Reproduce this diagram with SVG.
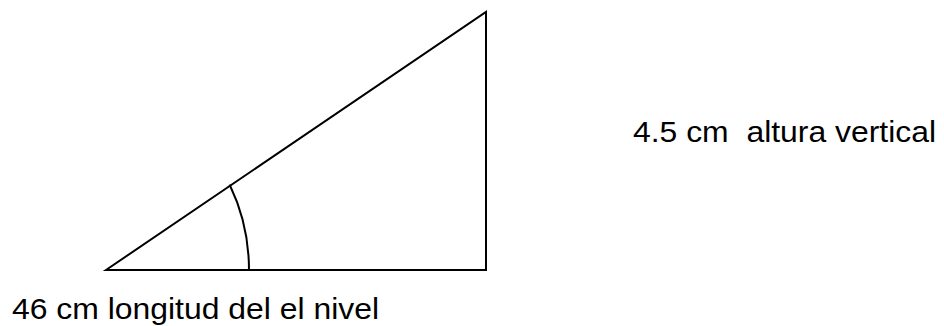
<svg xmlns="http://www.w3.org/2000/svg" width="944" height="326" viewBox="0 0 944 326">
<style>
.ln{fill:none;stroke:#000;stroke-width:2;stroke-linecap:square}
.t{font-family:"Liberation Sans",Arial,sans-serif;font-size:30px;fill:#000;white-space:pre}
</style>
<rect width="944" height="326" fill="#fff"/>
<g id="connectors">
<path class="ln" d="M106 270 L486 12 L486 270 Z"/>
<path class="ln" d="M230 185.5 A143 170 0 0 1 249 270"/>
</g>
<g id="label-height"><text class="t" x="633" y="142" xml:space="preserve" textLength="303" lengthAdjust="spacingAndGlyphs">4.5 cm  altura vertical</text></g>
<g id="label-length"><text class="t" x="12" y="319" textLength="367" lengthAdjust="spacingAndGlyphs">46 cm longitud del el nivel</text></g>
</svg>
